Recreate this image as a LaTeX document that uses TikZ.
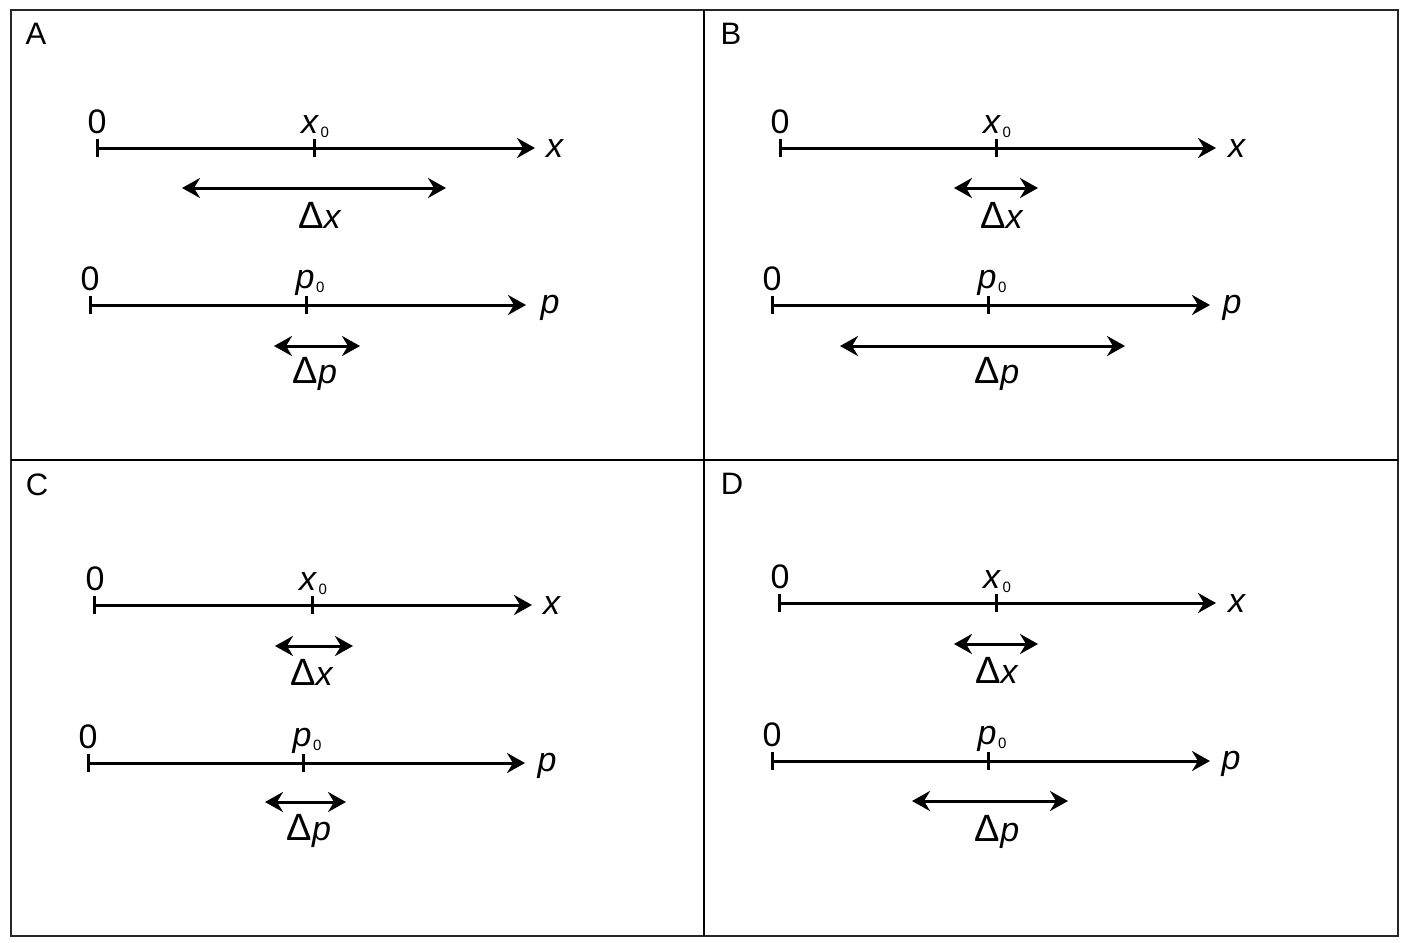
\documentclass[tikz,border=0pt]{standalone}
\usepackage{fontspec}
\setmainfont{Liberation Sans}
\usetikzlibrary{arrows.meta}
\newcommand{\subz}{\hspace{1.5pt}\raisebox{-4pt}{\fontsize{15}{16}\selectfont 0}}
\newcommand{\bigD}{{\fontsize{38}{40}\selectfont Δ}}
\begin{document}
\begin{tikzpicture}[x=1pt,y=-1pt,
  ax/.style={line width=3pt, -{Stealth[length=18pt,width=20pt,inset=6pt]}},
  dbl/.style={line width=3pt, {Stealth[length=18pt,width=20pt,inset=6pt]}-{Stealth[length=18pt,width=20pt,inset=6pt]}},
  tk/.style={line width=3pt},
  lbl/.style={font=\fontsize{34}{40}\selectfont, inner sep=0pt, anchor=base},
  plbl/.style={font=\fontsize{31}{36}\selectfont, inner sep=0pt, anchor=base},
  frame/.style={draw=black!85, line width=2pt},
  divider/.style={draw=black, line width=1.4pt}]
\useasboundingbox (0,0) rectangle (1410,942);
\fill[white] (0,0) rectangle (1410,942);
\draw[frame] (11,10) rectangle (1398,936);
\draw[divider] (704,10) -- (704,936);
\draw[divider] (11,460) -- (1398,460);

% panel letters
\node[plbl] (lA) at (36,45) {A};
\node[plbl] (lB) at (731,45) {B};
\node[plbl] (lC) at (37,495) {C};
\node[plbl] (lD) at (732,494) {D};

% ---------- Panel A ----------
\coordinate (Ax0) at (97,148); \coordinate (AxE) at (535,148);
\draw[ax] (Ax0) -- (AxE);
\draw[tk] (97,139) -- (97,157); \draw[tk] (314,139) -- (314,157);
\node[lbl] (Ax0l) at (97,133) {0};
\node[lbl] (Axtl) at (315,133) {\textit{x}\subz};
\node[lbl] (Axl) at (555,157) {\textit{x}};
\coordinate (AdxL) at (182,188); \coordinate (AdxR) at (446,188);
\draw[dbl] (AdxL) -- (AdxR);
\node[lbl] (Adxl) at (320,228) {\bigD\textit{x}};
\coordinate (Ap0) at (90,305); \coordinate (ApE) at (526,305);
\draw[ax] (Ap0) -- (ApE);
\draw[tk] (90,296) -- (90,314); \draw[tk] (306,296) -- (306,314);
\node[lbl] (Ap0l) at (90,290) {0};
\node[lbl] (Aptl) at (310,288) {\textit{p}\subz};
\node[lbl] (Apl) at (550,313) {\textit{p}};
\coordinate (AdpL) at (274,346); \coordinate (AdpR) at (360,346);
\draw[dbl] (AdpL) -- (AdpR);
\node[lbl] (Adpl) at (315,383) {\bigD\textit{p}};

% ---------- Panel B ----------
\coordinate (Bx0) at (780,148); \coordinate (BxE) at (1216,148);
\draw[ax] (Bx0) -- (BxE);
\draw[tk] (780,139) -- (780,157); \draw[tk] (996,139) -- (996,157);
\node[lbl] (Bx0l) at (780,133) {0};
\node[lbl] (Bxtl) at (997,133) {\textit{x}\subz};
\node[lbl] (Bxl) at (1237,157) {\textit{x}};
\coordinate (BdxL) at (954,188); \coordinate (BdxR) at (1038,188);
\draw[dbl] (BdxL) -- (BdxR);
\node[lbl] (Bdxl) at (1002,228) {\bigD\textit{x}};
\coordinate (Bp0) at (772,305); \coordinate (BpE) at (1210,305);
\draw[ax] (Bp0) -- (BpE);
\draw[tk] (772,296) -- (772,314); \draw[tk] (988,296) -- (988,314);
\node[lbl] (Bp0l) at (772,290) {0};
\node[lbl] (Bptl) at (992,288) {\textit{p}\subz};
\node[lbl] (Bpl) at (1232,313) {\textit{p}};
\coordinate (BdpL) at (840,346); \coordinate (BdpR) at (1125,346);
\draw[dbl] (BdpL) -- (BdpR);
\node[lbl] (Bdpl) at (997,383) {\bigD\textit{p}};

% ---------- Panel C ----------
\coordinate (Cx0) at (94,605); \coordinate (CxE) at (532,605);
\draw[ax] (Cx0) -- (CxE);
\draw[tk] (94,596) -- (94,614); \draw[tk] (312,596) -- (312,614);
\node[lbl] (Cx0l) at (95,590) {0};
\node[lbl] (Cxtl) at (313,590) {\textit{x}\subz};
\node[lbl] (Cxl) at (552,614) {\textit{x}};
\coordinate (CdxL) at (275,646); \coordinate (CdxR) at (353,646);
\draw[dbl] (CdxL) -- (CdxR);
\node[lbl] (Cdxl) at (312,685) {\bigD\textit{x}};
\coordinate (Cp0) at (88,763); \coordinate (CpE) at (525,763);
\draw[ax] (Cp0) -- (CpE);
\draw[tk] (88,754) -- (88,772); \draw[tk] (303,754) -- (303,772);
\node[lbl] (Cp0l) at (88,748) {0};
\node[lbl] (Cptl) at (307,746) {\textit{p}\subz};
\node[lbl] (Cpl) at (547,771) {\textit{p}};
\coordinate (CdpL) at (265,802); \coordinate (CdpR) at (346,802);
\draw[dbl] (CdpL) -- (CdpR);
\node[lbl] (Cdpl) at (309,840) {\bigD\textit{p}};

% ---------- Panel D ----------
\coordinate (Dx0) at (779,603); \coordinate (DxE) at (1216,603);
\draw[ax] (Dx0) -- (DxE);
\draw[tk] (779,594) -- (779,612); \draw[tk] (996,594) -- (996,612);
\node[lbl] (Dx0l) at (780,588) {0};
\node[lbl] (Dxtl) at (997,588) {\textit{x}\subz};
\node[lbl] (Dxl) at (1237,612) {\textit{x}};
\coordinate (DdxL) at (954,644); \coordinate (DdxR) at (1038,644);
\draw[dbl] (DdxL) -- (DdxR);
\node[lbl] (Ddxl) at (997,683) {\bigD\textit{x}};
\coordinate (Dp0) at (772,761); \coordinate (DpE) at (1210,761);
\draw[ax] (Dp0) -- (DpE);
\draw[tk] (772,752) -- (772,770); \draw[tk] (988,752) -- (988,770);
\node[lbl] (Dp0l) at (772,746) {0};
\node[lbl] (Dptl) at (992,744) {\textit{p}\subz};
\node[lbl] (Dpl) at (1231,769) {\textit{p}};
\coordinate (DdpL) at (912,801); \coordinate (DdpR) at (1068,801);
\draw[dbl] (DdpL) -- (DdpR);
\node[lbl] (Ddpl) at (997,841) {\bigD\textit{p}};
\end{tikzpicture}
\end{document}
